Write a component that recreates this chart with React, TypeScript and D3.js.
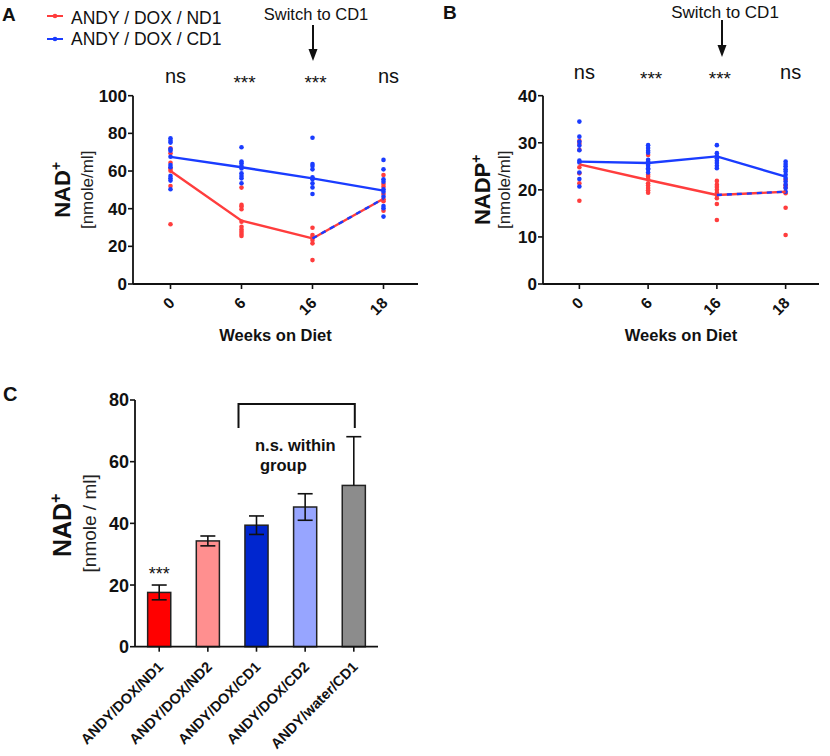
import React from 'react';
import * as d3 from 'd3';

const weeks = ['0', '6', '16', '18'];

// Panel A: NAD+ (nmole/ml), individual points per week
const nadNd1Dots = [
  [72, 69.4, 64.4, 61.4, 60.2, 52, 31.7],
  [51.2, 42, 41.1, 39.7, 33.1, 30.4, 29, 27.8, 26.6, 25.5],
  [29.9, 26, 24.8, 23.4, 21.6, 12.7],
  [57.9, 51.7, 53.1, 47.8, 45, 38.9, 44],
];
const nadCd1Dots = [
  [77.4, 76.1, 75.1, 71.7, 70.8, 67.6, 63.2, 62, 57.4, 56.1, 54.9, 50.3],
  [72.6, 65, 64.1, 62.7, 61.4, 58.8, 57.4, 56.1, 53.5],
  [77.7, 63.7, 62.7, 60.9, 56.7, 55.6, 53.5, 51.3, 47.8],
  [65.9, 60.9, 55.6, 54.3, 50.3, 49, 46.4, 41.4, 40.2, 35.8],
];
const nadNd1Mean = [60, 33.6, 24.2, 45.3];
const nadCd1Mean = [67.5, 62, 56.1, 49.6];

// Panel B: NADP+
const nadpNd1Dots = [
  [30.4, 29.8, 28.5, 24.8, 23.5, 21.4, 17.7],
  [27.4, 23.2, 22.8, 22.3, 21.4, 20.9, 20.4, 19.9, 19.4],
  [21.9, 21.1, 20.6, 20, 19.4, 18.9, 18.2, 17, 13.6],
  [22.2, 21, 20.5, 19.3, 16.2, 10.4],
];
const nadpCd1Dots = [
  [34.5, 31.3, 30.2, 29.4, 28.4, 26.2, 25.8, 23.7, 22.3, 20.7],
  [29.5, 28.9, 28.3, 27.9, 26.4, 26, 25.5, 25.1, 24.6, 24.3, 23.7],
  [29.5, 27.8, 27.2, 26.7, 26.2, 25.7, 25.1, 24.6],
  [26, 25.5, 25, 24.4, 23.9, 23.2, 22.5, 21.8, 21.1, 20.4, 19.6],
];
const nadpNd1Mean = [25.4, 22.1, 18.9, 19.6];
const nadpCd1Mean = [26.0, 25.7, 27.1, 22.8];

const sigLabels = ['ns', '***', '***', 'ns'];
const yTicksA = [0, 20, 40, 60, 80, 100];
const yTicksB = [0, 10, 20, 30, 40];

// Panel C
const groups = ['ANDY/DOX/ND1', 'ANDY/DOX/ND2', 'ANDY/DOX/CD1', 'ANDY/DOX/CD2', 'ANDY/water/CD1'];
const groupMeans = [17.6, 34.3, 39.4, 45.3, 52.3];
const groupErrors = [2.4, 1.6, 3.0, 4.3, 15.8];
const groupColors = ['#ff0000', '#ff8f8f', '#0026cf', '#97a5ff', '#8c8c8c'];
const yTicksC = [0, 20, 40, 60, 80];

const RED = '#ff3d3d';
const BLUE = '#1a3cff';
const FONT = "'Liberation Sans', Arial, sans-serif";

type LinePanelProps = {
  x0: number; x1: number; yTop: number; yBottom: number;
  maxY: number; ticks: number[];
  nd1Dots: number[][]; cd1Dots: number[][];
  nd1Mean: number[]; cd1Mean: number[];
  yLabel: string; labelX: number; subLabelX: number;
  arrowX: number; arrowTop: number; arrowTip: number; switchY: number; switchSize: number;
  sigY: number;
};

function LinePanel(p: LinePanelProps) {
  const x = d3.scalePoint<string>().domain(weeks).range([p.x0 + 2, p.x1 + 1]).padding(0.5);
  const y = d3.scaleLinear().domain([0, p.maxY]).range([p.yBottom, p.yTop]);
  const line = d3.line<number>().x((_, i) => x(weeks[i]) as number).y((d) => y(d));
  const redSolid = line(p.nd1Mean.slice(0, 3)) as string;
  const dashedSeg = d3.line<number>().x((_, i) => x(weeks[i + 2]) as number).y((d) => y(d))(p.nd1Mean.slice(2)) as string;
  const blueLine = line(p.cd1Mean) as string;
  const tipW = 4.5;
  return (
    <g fontFamily={FONT}>
      {/* axes */}
      <line x1={p.x0} x2={p.x0} y1={p.yTop} y2={p.yBottom} stroke="#111" strokeWidth={1.8} />
      <line x1={p.x0} x2={p.x1} y1={p.yBottom} y2={p.yBottom} stroke="#111" strokeWidth={1.8} />
      {p.ticks.map((t) => (
        <g key={t}>
          <line x1={p.x0 - 5} x2={p.x0} y1={y(t)} y2={y(t)} stroke="#111" strokeWidth={1.6} />
          <text x={p.x0 - 6} y={y(t)} dy="0.36em" textAnchor="end" fontSize={17} fontWeight="bold" fill="#111">{t}</text>
        </g>
      ))}
      {weeks.map((w) => (
        <g key={w}>
          <line x1={x(w)} x2={x(w)} y1={p.yBottom} y2={p.yBottom + 5} stroke="#111" strokeWidth={1.6} />
          <text transform={`translate(${(x(w) as number) + 5},${p.yBottom + 20}) rotate(-45)`} textAnchor="end" fontSize={15.5} fontWeight="bold" fill="#111">{w}</text>
        </g>
      ))}
      <text x={(p.x0 + p.x1) / 2} y={p.yBottom + 57} textAnchor="middle" fontSize={16.5} fontWeight="bold" fill="#111">Weeks on Diet</text>
      {/* y labels */}
      <text transform={`translate(${p.labelX},${(p.yTop + p.yBottom) / 2}) rotate(-90)`} textAnchor="middle" fontSize={22} fontWeight="bold" fill="#111">
        {p.yLabel}<tspan fontSize={14} dy="-9">+</tspan>
      </text>
      <text transform={`translate(${p.subLabelX},${(p.yTop + p.yBottom) / 2}) rotate(-90)`} textAnchor="middle" fontSize={17} fill="#222">[nmole/ml]</text>
      {/* significance */}
      {sigLabels.map((s, i) => (
        s === 'ns'
          ? <text key={i} x={(x(weeks[i]) as number) + 5} y={p.sigY} textAnchor="middle" fontSize={20} fill="#111">ns</text>
          : <text key={i} x={(x(weeks[i]) as number) + 3} y={p.sigY + 6} textAnchor="middle" fontSize={19} fill="#111">***</text>
      ))}
      {/* switch annotation */}
      <text x={p.arrowX + 3} y={p.switchY} textAnchor="middle" fontSize={p.switchSize} fill="#111">Switch to CD1</text>
      <line x1={p.arrowX} x2={p.arrowX} y1={p.arrowTop} y2={p.arrowTip - 10} stroke="#111" strokeWidth={2} />
      <polygon points={`${p.arrowX - tipW},${p.arrowTip - 12} ${p.arrowX + tipW},${p.arrowTip - 12} ${p.arrowX},${p.arrowTip}`} fill="#111" />
      {/* dots */}
      {p.nd1Dots.map((arr, i) => arr.map((v, j) => (
        <circle key={`r${i}-${j}`} cx={x(weeks[i])} cy={y(v)} r={2.3} fill={RED} />
      )))}
      {p.cd1Dots.map((arr, i) => arr.map((v, j) => (
        <circle key={`b${i}-${j}`} cx={x(weeks[i])} cy={y(v)} r={2.3} fill={BLUE} />
      )))}
      {/* mean lines */}
      <path d={blueLine} fill="none" stroke={BLUE} strokeWidth={2.4} />
      <path d={redSolid} fill="none" stroke={RED} strokeWidth={2.4} />
      <path d={dashedSeg} fill="none" stroke={RED} strokeWidth={2.4} />
      <path d={dashedSeg} fill="none" stroke={BLUE} strokeWidth={2.4} strokeDasharray="5,5" />
    </g>
  );
}

function BarPanel() {
  const x0 = 135, x1 = 378, yTop = 400, yBottom = 646.7;
  const x = d3.scaleBand<string>().domain(groups).range([x0, x1]).paddingInner(0.525).paddingOuter(0.26);
  const y = d3.scaleLinear().domain([0, 80]).range([yBottom, yTop]);
  const bw = x.bandwidth();
  const cap = 7.5;
  const c = (g: string) => (x(g) as number) + bw / 2;
  return (
    <g fontFamily={FONT}>
      {groups.map((g, i) => {
        const cx = c(g);
        const top = y(groupMeans[i] + groupErrors[i]);
        const bot = y(groupMeans[i] - groupErrors[i]);
        const isLast = i === groups.length - 1;
        return (
          <g key={g}>
            <rect x={x(g)} y={y(groupMeans[i])} width={bw} height={yBottom - y(groupMeans[i])} fill={groupColors[i]} stroke="#222" strokeWidth={1.5} />
            <line x1={cx} x2={cx} y1={top} y2={isLast ? y(groupMeans[i]) : bot} stroke="#111" strokeWidth={1.6} />
            <line x1={cx - cap} x2={cx + cap} y1={top} y2={top} stroke="#111" strokeWidth={1.6} />
            {!isLast && <line x1={cx - cap} x2={cx + cap} y1={bot} y2={bot} stroke="#111" strokeWidth={1.6} />}
            <line x1={cx} x2={cx} y1={yBottom} y2={yBottom + 5} stroke="#111" strokeWidth={1.6} />
            <text transform={`translate(${cx + 5},${yBottom + 21}) rotate(-45)`} textAnchor="end" fontSize={14.5} fontWeight="bold" fill="#111">{g}</text>
          </g>
        );
      })}
      <line x1={x0} x2={x0} y1={yTop} y2={yBottom} stroke="#111" strokeWidth={1.8} />
      <line x1={x0} x2={x1} y1={yBottom} y2={yBottom} stroke="#111" strokeWidth={1.8} />
      {yTicksC.map((t) => (
        <g key={t}>
          <line x1={x0 - 5} x2={x0} y1={y(t)} y2={y(t)} stroke="#111" strokeWidth={1.6} />
          <text x={x0 - 6} y={y(t)} dy="0.36em" textAnchor="end" fontSize={18} fontWeight="bold" fill="#111">{t}</text>
        </g>
      ))}
      <text x={c(groups[0])} y={y(groupMeans[0] + groupErrors[0]) - 5} textAnchor="middle" fontSize={18} fill="#111">***</text>
      {/* bracket */}
      <path d={`M${c(groups[2]) - 18},${yTop + 28} V${yTop + 4} H${c(groups[4]) + 1} V${yTop + 28}`} fill="none" stroke="#111" strokeWidth={2} />
      <text x={255} y={451} fontSize={16.5} fontWeight="bold" fill="#111">n.s. within</text>
      <text x={260} y={471} fontSize={16.5} fontWeight="bold" fill="#111">group</text>
      <text transform={`translate(71,${(yTop + yBottom) / 2 + 2}) rotate(-90)`} textAnchor="middle" fontSize={25} fontWeight="bold" fill="#111">
        NAD<tspan fontSize={16} dy="-10">+</tspan>
      </text>
      <text transform={`translate(96,${(yTop + yBottom) / 2}) rotate(-90)`} textAnchor="middle" fontSize={19} fill="#222">[nmole / ml]</text>
    </g>
  );
}

export default function App() {
  return (
    <svg width={830} height={756} style={{ position: 'absolute', left: 0, top: 0, background: '#fff' }}>
      <rect width={830} height={756} fill="#fff" />
      <g fontFamily={FONT}>
        <text x={2} y={21} fontSize={19} fontWeight="bold" fill="#111">A</text>
        <text x={443} y={19} fontSize={19} fontWeight="bold" fill="#111">B</text>
        <text x={3} y={401} fontSize={20} fontWeight="bold" fill="#111">C</text>
        {/* legend */}
        <line x1={47} x2={63} y1={16} y2={16} stroke={RED} strokeWidth={2} />
        <circle cx={55} cy={16} r={2.3} fill={RED} />
        <text x={71} y={24} fontSize={17.5} fill="#111">ANDY / DOX / ND1</text>
        <line x1={47} x2={63} y1={39} y2={39} stroke={BLUE} strokeWidth={2} />
        <circle cx={55} cy={39} r={2.3} fill={BLUE} />
        <text x={71} y={45} fontSize={17.5} fill="#111">ANDY / DOX / CD1</text>
      </g>
      <LinePanel x0={133} x1={418} yTop={95.7} yBottom={284} maxY={100} ticks={yTicksA}
        nd1Dots={nadNd1Dots} cd1Dots={nadCd1Dots} nd1Mean={nadNd1Mean} cd1Mean={nadCd1Mean}
        yLabel="NAD" labelX={70} subLabelX={93}
        arrowX={313} arrowTop={25} arrowTip={61} switchY={20} switchSize={16.5} sigY={83} />
      <LinePanel x0={543} x1={819} yTop={95.7} yBottom={284} maxY={40} ticks={yTicksB}
        nd1Dots={nadpNd1Dots} cd1Dots={nadpCd1Dots} nd1Mean={nadpNd1Mean} cd1Mean={nadpCd1Mean}
        yLabel="NADP" labelX={490} subLabelX={510}
        arrowX={722} arrowTop={20} arrowTip={57} switchY={18} switchSize={17} sigY={79} />
      <BarPanel />
    </svg>
  );
}
